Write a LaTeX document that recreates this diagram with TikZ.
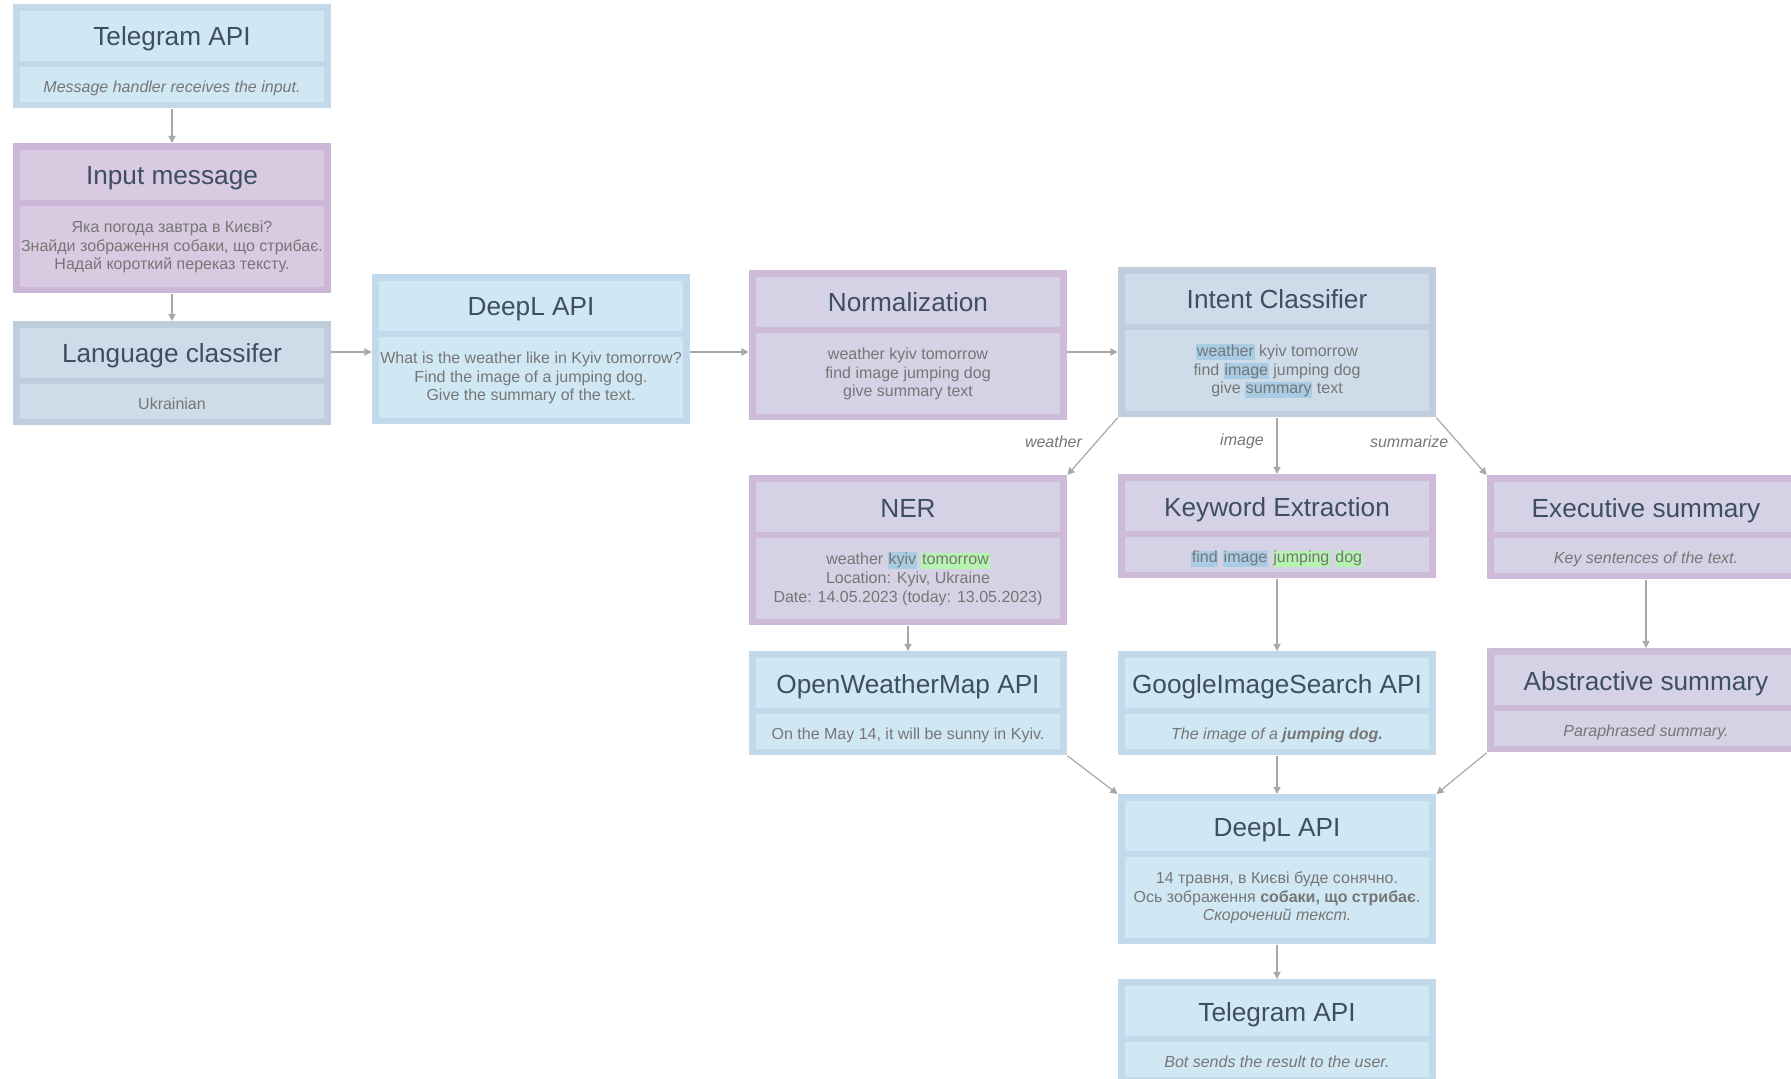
\documentclass[tikz,border=0pt]{standalone}
\usepackage{fontspec}
\setmainfont{Liberation Sans}
\usetikzlibrary{arrows.meta}
\definecolor{blueframe}{HTML}{C2D9EB}
\definecolor{bluefill}{HTML}{D0E8F4}
\definecolor{grayframe}{HTML}{BFCDDD}
\definecolor{grayfill}{HTML}{CEDCE9}
\definecolor{pinkframe}{HTML}{CDB7D9}
\definecolor{pinkfill}{HTML}{D9C9E1}
\definecolor{lavframe}{HTML}{CEBBD9}
\definecolor{lavfill}{HTML}{D4D2E4}
\definecolor{titlecol}{HTML}{3E4E63}
\definecolor{bodycol}{HTML}{767676}
\definecolor{linecol}{HTML}{A8A8A8}
\definecolor{hlblue}{HTML}{A8CCE4}
\definecolor{hlgreen}{HTML}{B6F4B0}
\newcommand\hlb[1]{{\fboxsep=0.4pt\colorbox{hlblue}{\vphantom{Ay}#1}}}
\newcommand\hlg[1]{{\fboxsep=0.4pt\colorbox{hlgreen}{\vphantom{Ay}#1}}}
\tikzset{
  outerbox/.style={fill=#1frame, draw=none, minimum width=159pt, inner sep=0pt},
  headbox/.style={fill=#1fill, draw=none, minimum width=152pt, minimum height=25pt, inner sep=0pt,
    text height=10.6pt, text depth=1pt,
    font=\fontsize{13.1}{15.5}\selectfont, text=titlecol},
  bodybox/.style={fill=#1fill, draw=none, minimum width=152pt, inner sep=0pt, align=center,
    font=\fontsize{8}{9.4}\selectfont, text=bodycol},
  oneline/.style={text height=8.6pt, text depth=0.6pt},
  multiline/.style={},
  conn/.style={draw=linecol, line width=0.6pt, -{Triangle[length=3.6pt,width=3.6pt]}},
  lbl/.style={font=\fontsize{8}{9.4}\selectfont\itshape, text=bodycol, inner sep=0pt}
}
\newcommand\flowbox[8]{%
  \node[outerbox=#2, minimum height={(69+#5)*0.5pt}, anchor=north] (#1) at (#3,#4) {};
  \node[headbox=#2, anchor=north] (#1h) at ([yshift=-3.5pt]#1.north) {#6};
  \node[bodybox=#2, #8, minimum height={#5*0.5pt}, anchor=south] (#1b) at ([yshift=3pt]#1.south) {#7};
}
\begin{document}
\begin{tikzpicture}[x=0.5pt,y=-0.5pt]
\useasboundingbox (0,0) rectangle (1791,1079);
\clip (0,0) rectangle (1791,1079);
\fill[white] (0,0) rectangle (1791,1079);
\flowbox{tga}{blue}{172}{4}{35}{Telegram API}{\itshape Message handler receives the input.}{oneline}
\flowbox{im}{pink}{172}{143}{81}{Input message}{Яка погода завтра в Києві?\\Знайди зображення собаки, що стрибає.\\Надай короткий переказ тексту.}{multiline}
\flowbox{lc}{gray}{172}{321}{35}{Language classifer}{Ukrainian}{oneline}
\flowbox{da}{blue}{531}{274}{81}{DeepL API}{What is the weather like in Kyiv tomorrow?\\Find the image of a jumping dog.\\Give the summary of the text.}{multiline}
\flowbox{nm}{lav}{908}{270}{81}{Normalization}{weather kyiv tomorrow\\find image jumping dog\\give summary text}{multiline}
\flowbox{ic}{gray}{1277}{267}{81}{Intent Classifier}{\hlb{weather} kyiv tomorrow\\find \hlb{image} jumping dog\\give \hlb{summary} text}{multiline}
\flowbox{ner}{lav}{908}{475}{81}{NER}{weather \hlb{kyiv} \hlg{tomorrow}\\Location: Kyiv, Ukraine\\Date: 14.05.2023 (today: 13.05.2023)}{multiline}
\flowbox{ke}{lav}{1277}{474}{35}{Keyword Extraction}{\hlb{find} \hlb{image} \hlg{jumping} \hlg{dog}}{oneline}
\flowbox{es}{lav}{1646}{475}{35}{Executive summary}{\itshape Key sentences of the text.}{oneline}
\flowbox{ow}{blue}{908}{651}{35}{OpenWeatherMap API}{On the May 14, it will be sunny in Kyiv.}{oneline}
\flowbox{gi}{blue}{1277}{651}{35}{GoogleImageSearch API}{\itshape The image of a \textbf{jumping dog.}}{oneline}
\flowbox{as}{lav}{1646}{648}{35}{Abstractive summary}{\itshape Paraphrased summary.}{oneline}
\flowbox{db}{blue}{1277}{794}{81}{DeepL API}{14 травня, в Києві буде сонячно.\\Ось зображення \textbf{собаки, що стрибає}.\\\textit{Скорочений текст.}}{multiline}
\flowbox{tgb}{blue}{1277}{979}{35}{Telegram API}{\itshape Bot sends the result to the user.}{oneline}
% connectors
\draw[conn] (tga) -- (im);
\draw[conn] (im) -- (lc);
\draw[conn] ([yshift=-1.3pt]lc.east |- da.west) -- ([yshift=-1.3pt]da.west);
\draw[conn] ([yshift=-1.3pt]da.east) -- ([yshift=-1.3pt]da.east -| nm.west);
\draw[conn] ([yshift=-1.3pt]nm.east |- da.east) -- ([yshift=-1.3pt]ic.west |- da.east);
\draw[conn] (ic.south west) -- node[lbl, pos=0.42, anchor=east, xshift=-7pt] (lw) {weather} (ner.north east);
\draw[conn] (ic) -- node[lbl, pos=0.42, anchor=east, xshift=-6.3pt] (li) {image} (ke);
\draw[conn] (ic.south east) -- node[lbl, pos=0.42, anchor=east, xshift=-4.3pt] (ls) {summarize} (es.north west);
\draw[conn] (ner) -- (ow);
\draw[conn] (ke) -- (gi);
\draw[conn] (es) -- (as);
\draw[conn] (ow.south east) -- (db.north west);
\draw[conn] (gi) -- (db);
\draw[conn] (as.south west) -- (db.north east);
\draw[conn] (db) -- (tgb);
\end{tikzpicture}
\end{document}
